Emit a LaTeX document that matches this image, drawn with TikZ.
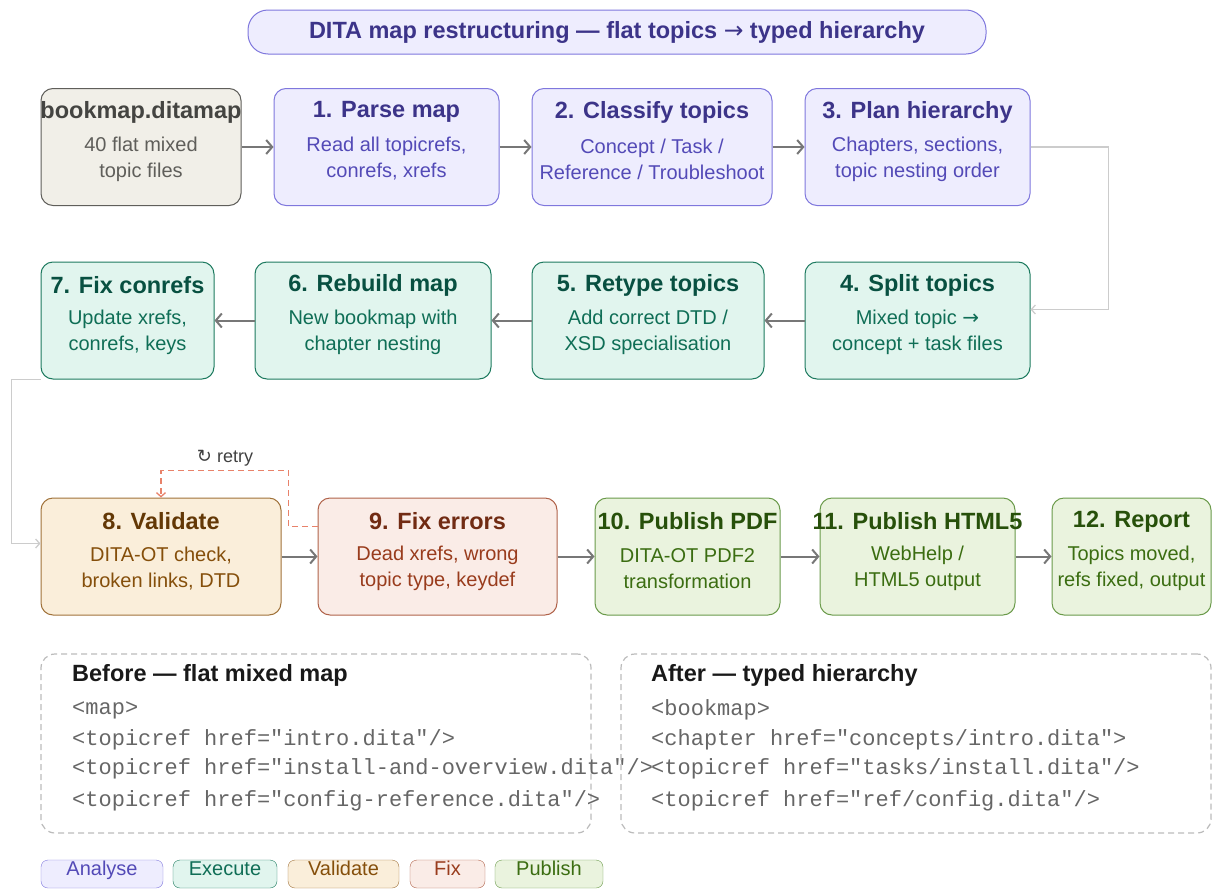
\documentclass[tikz,border=0pt]{standalone}
\usepackage{fontspec}
\setmainfont{Liberation Sans}
\setmonofont{Liberation Mono}
\newfontfamily\symfont{DejaVu Sans}
\usetikzlibrary{calc,arrows.meta}

% palettes: an = analyse, nt = source, ex = execute, va = validate, fx = fix, pu = publish
\definecolor{anfill}{HTML}{EEEDFE}\definecolor{anline}{HTML}{7F77DD}\definecolor{anhead}{HTML}{3C3489}\definecolor{anbody}{HTML}{534AB7}
\definecolor{ntfill}{HTML}{F1EFE8}\definecolor{ntline}{HTML}{5F5E5A}\definecolor{nthead}{HTML}{444441}\definecolor{ntbody}{HTML}{5F5E5A}
\definecolor{exfill}{HTML}{E1F5EE}\definecolor{exline}{HTML}{1D7A5F}\definecolor{exhead}{HTML}{085041}\definecolor{exbody}{HTML}{0F6E56}
\definecolor{vafill}{HTML}{FAEEDA}\definecolor{valine}{HTML}{A0723A}\definecolor{vahead}{HTML}{633806}\definecolor{vabody}{HTML}{854F0B}
\definecolor{fxfill}{HTML}{FAECE7}\definecolor{fxline}{HTML}{B0624A}\definecolor{fxhead}{HTML}{712B13}\definecolor{fxbody}{HTML}{993C1D}
\definecolor{pufill}{HTML}{EAF3DE}\definecolor{puline}{HTML}{6A9A4A}\definecolor{puhead}{HTML}{27500A}\definecolor{pubody}{HTML}{3B6D11}
\definecolor{arrowgrey}{HTML}{777777}
\definecolor{linkgrey}{HTML}{CCCCCC}
\definecolor{retryred}{HTML}{E8826A}
\definecolor{dashgrey}{HTML}{BBBBBB}
\definecolor{codegrey}{HTML}{666666}

\newcommand{\rarr}{{\symfont\mdseries →}}

\tikzset{
	box/.style={draw=#1line, fill=#1fill, rounded corners=12, line width=1, minimum height=117},
	head/.style={text=#1head, font=\fontsize{23.5}{28}\selectfont\bfseries, inner sep=0},
	desc/.style={text=#1body, font=\fontsize{20}{26}\selectfont, align=center, inner sep=0},
	flow/.style={draw=arrowgrey, line width=2, -{Straight Barb[length=6,width=14]}},
	link/.style={draw=linkgrey, line width=1.3, -{Straight Barb[length=4,width=9]}},
	retryline/.style={draw=retryred, line width=1.3, dash pattern=on 6pt off 4pt, -{Straight Barb[length=4,width=9]}},
	codebox/.style={draw=dashgrey, line width=1.2, dash pattern=on 6pt off 4pt, rounded corners=14},
	codehead/.style={anchor=west, inner sep=0, font=\fontsize{23.5}{28}\selectfont\bfseries, text=black!90},
	codeline/.style={anchor=west, inner sep=0, font=\ttfamily\fontsize{22}{26}\selectfont, text=codegrey},
	legend/.style={draw=#1line, fill=#1fill, text=#1body, rounded corners=7, minimum height=28, text height=11, text depth=9, font=\fontsize{20}{24}\selectfont},
}

% name, palette, x, y, width, title, text
\newcommand{\stepbox}[7]{%
	\node[box=#2, minimum width=#5] (#1) at (#3,#4) {};
	\node[head=#2] (#1-h) at ($(#1.north)+(0,24)$) {#6};
	\node[desc=#2] (#1-d) at ($(#1.north)+(0,71)$) {#7};
}

\begin{document}
\begin{tikzpicture}[x=1pt, y=-1pt]
	\useasboundingbox (0,0) rectangle (1213,889);
	
	%%%%% TITLE %%%%%
	\node[draw=anline, fill=anfill, rounded corners=20, line width=1, minimum width=738, minimum height=44, text=anhead, font=\fontsize{23.5}{28}\selectfont\bfseries] (title) at (617,32) {DITA map restructuring — flat topics \rarr{} typed hierarchy};
	
	%%%%% ROW 1 %%%%%
	\stepbox{bookmap}{nt}{141}{147}{200}{bookmap.ditamap}{40 flat mixed\\topic files}
	\stepbox{parse}{an}{386.5}{147}{225}{1. Parse map}{Read all topicrefs,\\conrefs, xrefs}
	\stepbox{classify}{an}{652}{147}{240}{2. Classify topics}{Concept / Task /\\Reference / Troubleshoot}
	\stepbox{plan}{an}{917.5}{147}{225}{3. Plan hierarchy}{Chapters, sections,\\topic nesting order}
	
	%%%%% ROW 2 %%%%%
	\stepbox{split}{ex}{917.5}{320.5}{225}{4. Split topics}{Mixed topic \rarr\\concept + task files}
	\stepbox{retype}{ex}{648}{320.5}{232}{5. Retype topics}{Add correct DTD /\\XSD specialisation}
	\stepbox{rebuild}{ex}{373}{320.5}{236}{6. Rebuild map}{New bookmap with\\chapter nesting}
	\stepbox{conrefs}{ex}{127.5}{320.5}{173}{7. Fix conrefs}{Update xrefs,\\conrefs, keys}
	
	%%%%% ROW 3 %%%%%
	\stepbox{validate}{va}{161}{556.5}{240}{8. Validate}{DITA-OT check,\\broken links, DTD}
	\stepbox{fixerr}{fx}{437.5}{556.5}{239}{9. Fix errors}{Dead xrefs, wrong\\topic type, keydef}
	\stepbox{pdf}{pu}{687.5}{556.5}{185}{10. Publish PDF}{DITA-OT PDF2\\transformation}
	\stepbox{html}{pu}{917.5}{556.5}{195}{11. Publish HTML5}{WebHelp /\\HTML5 output}
	\stepbox{report}{pu}{1131.5}{556.5}{159}{12. Report}{Topics moved,\\refs fixed, output}
	
	%%%%% CONNECTORS %%%%%
	\draw[flow] (bookmap) -- (parse);
	\draw[flow] (parse) -- (classify);
	\draw[flow] (classify) -- (plan);
	\draw[link] (plan.east) -- ++(78,0) |- ([yshift=11pt]split.east);
	\draw[flow] (split) -- (retype);
	\draw[flow] (retype) -- (rebuild);
	\draw[flow] (rebuild) -- (conrefs);
	\draw[link] (conrefs.south west) -- ++(-29,0) |- ([yshift=13pt]validate.west);
	\draw[flow] (validate) -- (fixerr);
	\draw[flow] (fixerr) -- (pdf);
	\draw[flow] (pdf) -- (html);
	\draw[flow] (html) -- (report);
	
	\draw[retryline] ([yshift=30pt]fixerr.west) -- ++(-29,0) |- ($(validate.north)+(0,-27)$) -- (validate.north);
	\node[text=black!75, font=\fontsize{18}{22}\selectfont] (retrylbl) at (225,458) {{\symfont ↻} retry};
	
	%%%%% BEFORE / AFTER %%%%%
	\node[codebox, minimum width=550, minimum height=179] (before) at (316,743.5) {};
	\node[codehead] (before-h) at (72,675) {Before — flat mixed map};
	\node[codeline] (before-1) at (72,710) {<map>};
	\node[codeline] (before-2) at (72,740) {<topicref href="intro.dita"/>};
	\node[codeline] (before-3) at (72,769) {<topicref href="install-and-overview.dita"/>};
	\node[codeline] (before-4) at (72,801) {<topicref href="config-reference.dita"/>};
	
	\node[codebox, minimum width=590, minimum height=179] (after) at (916,743.5) {};
	\node[codehead] (after-h) at (651,675) {After — typed hierarchy};
	\node[codeline] (after-1) at (651,710) {<bookmap>};
	\node[codeline] (after-2) at (651,740) {<chapter href="concepts/intro.dita">};
	\node[codeline] (after-3) at (651,769) {<topicref href="tasks/install.dita"/>};
	\node[codeline] (after-4) at (651,801) {<topicref href="ref/config.dita"/>};
	
	%%%%% LEGEND %%%%%
	\foreach \nm/\pal/\cx/\bw in {Analyse/an/102/122, Execute/ex/225/104, Validate/va/343.5/111, Fix/fx/447.5/75, Publish/pu/549/108}
		\node[legend=\pal, minimum width=\bw] (leg-\pal) at (\cx,874) {\nm};
\end{tikzpicture}
\end{document}
